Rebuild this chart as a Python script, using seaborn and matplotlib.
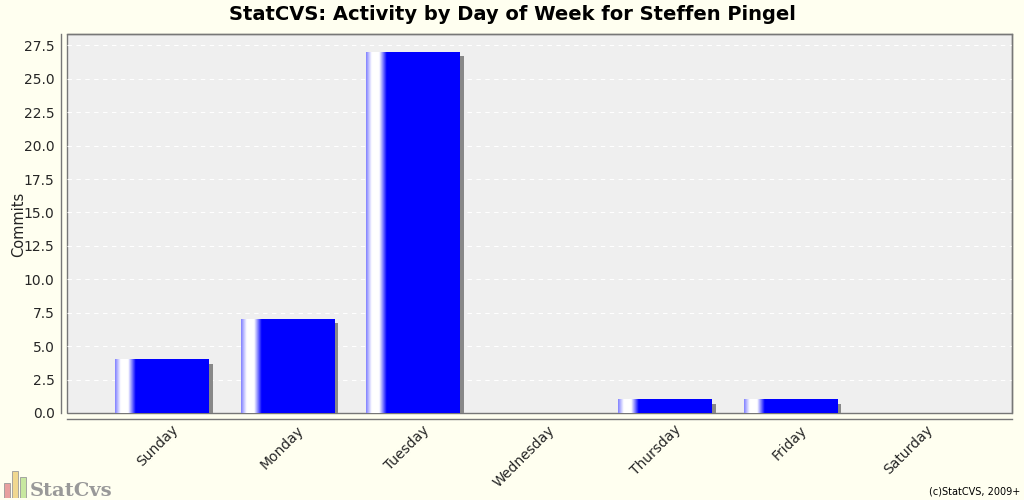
import numpy as np
import pandas as pd
import matplotlib
matplotlib.use("Agg")
import matplotlib.pyplot as plt
import matplotlib.transforms as mtransforms
from matplotlib.patches import Rectangle
import seaborn as sns

days = ['Sunday', 'Monday', 'Tuesday', 'Wednesday', 'Thursday', 'Friday', 'Saturday']
commits = [4, 7, 27, 0, 1, 1, 0]
yticks = [0.0, 2.5, 5.0, 7.5, 10.0, 12.5, 15.0, 17.5, 20.0, 22.5, 25.0, 27.5]

df = pd.DataFrame({'day': days, 'commits': commits})

sns.set_style('white')
plt.rcParams['font.family'] = ['DejaVu Sans']

bg = '#FFFFF0'
fig = plt.figure(figsize=(10.24, 5.0), dpi=100, facecolor=bg)
ax = fig.add_axes([67/1024, 1-413/500, (1012-67)/1024, (413-34)/500])
ax.set_facecolor('#EFEFEF')

sns.barplot(data=df, x='day', y='commits', color='#0000FF', width=0.746,
            saturation=1, ax=ax, zorder=3, linewidth=0)

# horizontal grid
for t in yticks[1:]:
    ax.axhline(t, color='white', lw=0.8, ls=(0, (4, 4)), zorder=1)

# gradient highlight and shadow for each bar
cols = np.linspace(0, 1, 400)
prof = np.interp(cols, [0, 0.06, 0.14, 0.22, 1], [0.5, 1.0, 1.0, 0.0, 0.0])
grad = np.zeros((1, 400, 3))
grad[0, :, 0] = prof
grad[0, :, 1] = prof
grad[0, :, 2] = 1.0
shadow_tr = ax.transData + mtransforms.ScaledTranslation(4/100, -4/100, fig.dpi_scale_trans)
for p in list(ax.patches):
    x, w, h = p.get_x(), p.get_width(), p.get_height()
    if h <= 0:
        continue
    ax.add_patch(Rectangle((x, 0), w, h, facecolor='#888888', edgecolor='none',
                           transform=shadow_tr, zorder=2, clip_on=True))
    ax.imshow(grad, extent=(x, x + w, 0, h), aspect='auto', zorder=4,
              interpolation='bilinear')

ax.set_xlim(-0.754, 6.762)
ax.set_ylim(0, 28.35)
ax.set_yticks(yticks)
ax.set_yticklabels([f'{t:.1f}' for t in yticks], fontsize=7.5, color='#444444')
ax.set_xticks(range(len(days)))
ax.set_xticklabels(days, fontsize=6.5, color='#555555')
ax.tick_params(axis='y', length=3, color='#777777', pad=2)
ax.tick_params(axis='x', length=0, pad=3)
ax.set_xlabel('')
ax.set_ylabel('Commits', fontsize=10.5, color='#222222')
ax.yaxis.set_label_coords((26 - 67) / 945, (413 - 224) / 379)

for s in ['top', 'right']:
    ax.spines[s].set_color('#777777')
    ax.spines[s].set_linewidth(1)
for s in ['left', 'bottom']:
    ax.spines[s].set_position(('outward', 4))
    ax.spines[s].set_color('#777777')
    ax.spines[s].set_linewidth(1)
ax.patch.set_edgecolor('#777777')
ax.patch.set_linewidth(1)

fig.text(0.5, 1-14/500, 'StatCVS: Activity by Day of Week for Steffen Pingel',
         ha='center', va='center', fontsize=14, fontweight='bold', color='black')
fig.text(1-4/1024, 8/500, '(c)StatCVS, 2009+', ha='right', va='center',
         fontsize=7, color='black')
fig.text(30/1024, 9/500, 'StatCvs', ha='left', va='center', fontsize=14,
         family='DejaVu Serif', fontweight='bold', color='#999999')

# little logo icon
logo = fig.add_axes([2/1024, 2/500, 26/1024, 30/500])
logo.bar([0, 1, 2], [0.5, 0.9, 0.7], color=['#E8A0A0', '#F0D890', '#C8E8A0'],
         edgecolor='#999999', width=0.7, linewidth=0.6)
logo.set_xlim(-0.6, 2.6)
logo.set_ylim(0, 1)
logo.axis('off')

fig.canvas.draw()
shift = mtransforms.ScaledTranslation(9/100, 0, fig.dpi_scale_trans)
for lbl in ax.get_xticklabels():
    lbl.set_rotation(45)
    lbl.set_ha('right')
    lbl.set_rotation_mode('anchor')
    lbl.set_transform(lbl.get_transform() + shift)

fig.savefig('out.png', dpi=100, facecolor=bg)
